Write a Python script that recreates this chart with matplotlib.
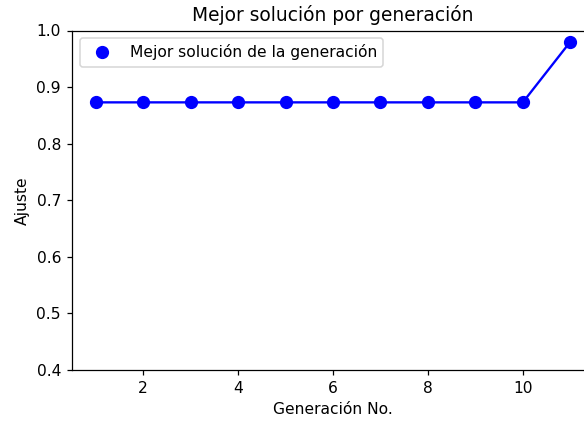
import matplotlib
matplotlib.use("Agg")
import matplotlib.pyplot as plt

# mejor ajuste de cada generación
generaciones = [1, 2, 3, 4, 5, 6, 7, 8, 9, 10, 11]
mejor_ajuste = [0.873, 0.873, 0.873, 0.873, 0.873, 0.873, 0.873, 0.873, 0.873, 0.873, 0.98]

DPI = 112
fig = plt.figure(figsize=(584 / DPI, 421 / DPI), dpi=DPI)
# el eje derecho queda fuera del lienzo
ax = fig.add_axes([72 / 584, 51 / 421, 522 / 584, 339.5 / 421])

ax.plot(generaciones, mejor_ajuste, "b-")
ax.plot(generaciones, mejor_ajuste, "bo", markersize=7.5,
        label="Mejor solución de la generación")

ax.set_ylim(0.4, 1.0)
ax.set_xlim(0.5, 11.5)
ax.set_title("Mejor solución por generación")
ax.set_xlabel("Generación No.")
ax.set_ylabel("Ajuste")
ax.legend(loc="upper left", numpoints=1)

fig.savefig("out.png", dpi=DPI)
